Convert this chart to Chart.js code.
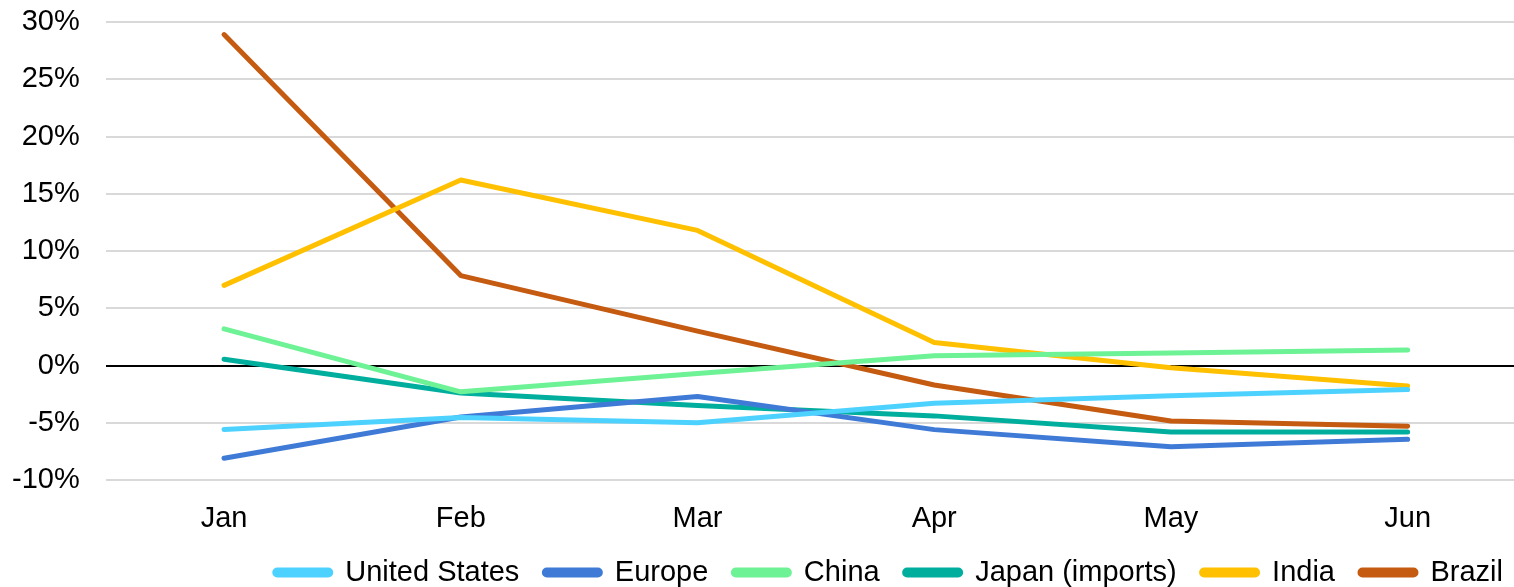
<!DOCTYPE html>
<html>
<head>
<meta charset="utf-8">
<script src="https://cdn.jsdelivr.net/npm/chart.js@4/dist/chart.umd.min.js"></script>
<style>
  html, body { margin: 0; padding: 0; background: #fff; }
  #wrap { width: 1514px; height: 587px; }
</style>
</head>
<body>
<div id="wrap"><canvas id="chart" width="1514" height="587"></canvas></div>
<script>
const months = ['Jan', 'Feb', 'Mar', 'Apr', 'May', 'Jun'];

const unitedStates = [-5.6, -4.55, -5.0, -3.3, -2.65, -2.1];
const europe = [-8.1, -4.5, -2.7, -5.6, -7.1, -6.45];
const china = [3.2, -2.3, -0.7, 0.85, 1.1, 1.35];
const japan = [0.55, -2.4, -3.5, -4.4, -5.8, -5.8];
const india = [7.0, 16.2, 11.8, 2.0, -0.2, -1.8];
const brazil = [28.9, 7.85, 3.0, -1.7, -4.85, -5.3];

const yTicks = { min: -10, max: 30, step: 5 };

const font = { family: "'Liberation Sans', Arial, sans-serif", size: 29, lineHeight: 1 };

function series(label, values, color) {
  return {
    label: label,
    data: values,
    borderColor: color,
    backgroundColor: color,
    borderWidth: 5,
    borderCapStyle: 'round',
    borderJoinStyle: 'round',
    pointRadius: 0,
    tension: 0,
  };
}

// excel lets the plot area run a bit past the right edge
const stretchX = {
  id: 'stretchX',
  afterLayout(chart) {
    const x = chart.scales.x;
    x.right += 12;
    x.width += 12;
    x.configure();
  },
};

const data = {
  labels: months,
  datasets: [
    series('United States', unitedStates, '#4dd2ff'),
    series('Europe', europe, '#3f7bd6'),
    series('China', china, '#6ef296'),
    series('Japan (imports)', japan, '#00ae9e'),
    series('India', india, '#ffc000'),
    series('Brazil', brazil, '#c55a11'),
  ],
};

const config = {
  type: 'line',
  data: data,
  plugins: [stretchX],
  options: {
    responsive: false,
    devicePixelRatio: 1,
    animation: false,
    layout: { padding: { left: -14, right: -14, top: 0, bottom: -10 } },
    plugins: {
      tooltip: { enabled: false },
      legend: {
        position: 'bottom',
        align: 'end',
        labels: {
          color: '#000',
          font: font,
          boxWidth: 56,
          boxHeight: 5,
          padding: 25,
          useBorderRadius: true,
          borderRadius: 2.5,
        },
      },
    },
    scales: {
      x: {
        offset: true,
        grid: { display: false, drawTicks: false },
        border: { display: false },
        ticks: { color: '#000', font: font, padding: 24, maxRotation: 0 },
        afterFit(scale) {
          scale.height = 53;
        },
      },
      y: {
        min: yTicks.min,
        max: yTicks.max,
        border: { display: false },
        grid: {
          drawTicks: false,
          color: (ctx) => (ctx.tick && ctx.tick.value === 0 ? '#000' : '#d9d9d9'),
          lineWidth: 2,
        },
        ticks: {
          stepSize: yTicks.step,
          color: '#000',
          font: font,
          padding: 26,
          callback: (v) => v + '%',
        },
        afterFit(scale) {
          scale.paddingTop = 22;
          scale.paddingBottom = 0;
        },
      },
    },
  },
};

const myChart = new Chart(document.getElementById('chart'), config);
</script>
</body>
</html>
